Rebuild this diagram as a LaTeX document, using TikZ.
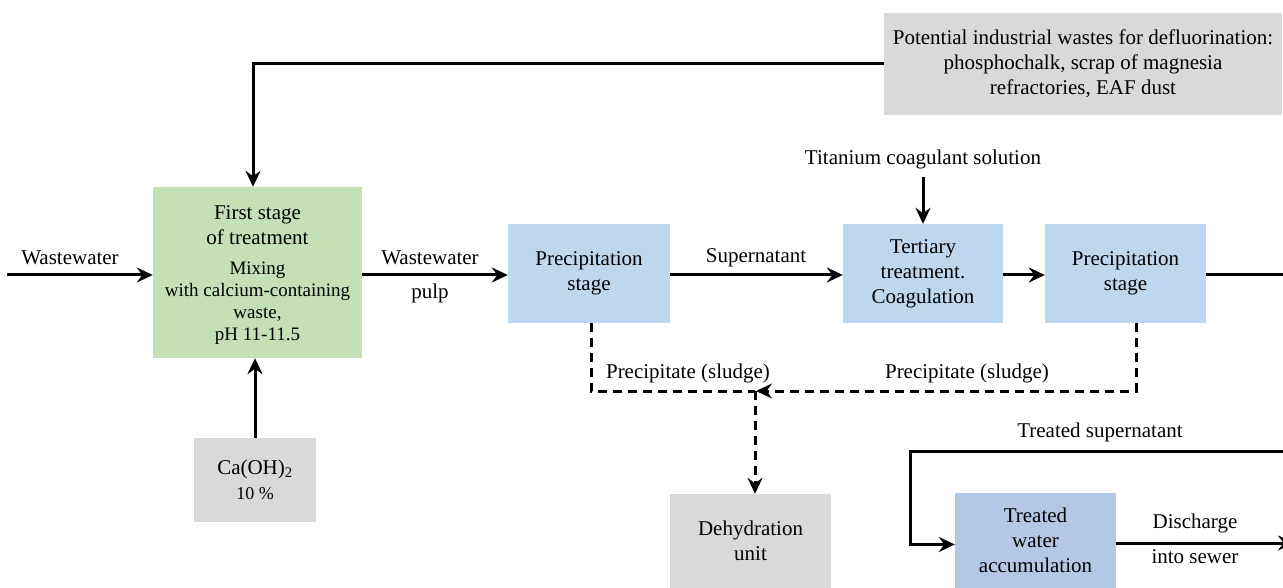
\documentclass[tikz,border=0pt]{standalone}
\usepackage{fontspec}
\setmainfont{Liberation Serif}
\usetikzlibrary{arrows.meta,positioning}
\definecolor{gboxc}{HTML}{C5E0B4}
\definecolor{bboxc}{HTML}{BDD7EE}
\definecolor{aboxc}{HTML}{B4C7E7}
\definecolor{greyc}{HTML}{D9D9D9}
\newcommand\smallerfont{\fontsize{19}{22}\selectfont}
\tikzset{
  base/.style={font=\fontsize{21}{25}\selectfont, align=center, inner sep=0pt},
  boxn/.style={base, draw=none},
  lbl/.style={base},
  tipst/.style={-{Stealth[length=16pt,width=15pt,inset=5.5pt]}},
  arr/.style={line width=3pt, tipst},
  plain/.style={line width=3pt},
  dsh/.style={line width=3pt, dash pattern=on 9pt off 6pt},
}
\begin{document}
\begin{tikzpicture}[x=1pt,y=-1pt]
\useasboundingbox (0,0) rectangle (1283,588);
% boxes
\node[boxn, fill=greyc, minimum width=398pt, minimum height=102pt] (top) at (1083,64)
  {Potential industrial wastes for defluorination:\\phosphochalk, scrap of magnesia\\refractories, EAF dust};
\node[boxn, fill=gboxc, minimum width=209pt, minimum height=171pt] (green) at (257.5,272.5)
  {\rule{0pt}{19.5pt}First stage\\of treatment\\[5pt]\smallerfont Mixing\\[-3pt]\smallerfont with calcium-containing\\[-3pt]\smallerfont waste,\\[-3pt]\smallerfont pH 11-11.5};
\node[boxn, fill=greyc, minimum width=122pt, minimum height=84pt] (ca) at (255,480)
  {Ca(OH)\textsubscript{2}\\\fontsize{18}{22}\selectfont 10 \%};
\node[boxn, fill=bboxc, minimum width=162pt, minimum height=99pt] (p1) at (589,273.5)
  {Precipitation\\stage};
\node[boxn, fill=bboxc, minimum width=160pt, minimum height=99pt] (tert) at (923,273.5)
  {Tertiary\\treatment.\\Coagulation};
\node[boxn, fill=bboxc, minimum width=161pt, minimum height=99pt] (p2) at (1125.5,273.5)
  {Precipitation\\stage};
\node[boxn, fill=greyc, minimum width=161pt, minimum height=94pt] (dehy) at (750.5,541)
  {Dehydration\\unit};
\node[boxn, fill=aboxc, minimum width=161pt, minimum height=95pt] (acc) at (1035.5,540.5)
  {Treated\\water\\accumulation};
% free ends
\coordinate (win) at (7,275);
\coordinate (yl) at (0,275);
\coordinate (rout) at (1283,275);
\coordinate (rin) at (1283,451);
\coordinate (lcorner) at (910,451);
\coordinate (dout) at (1294,543);
\coordinate (jn) at (755,391);
% labels
\node[lbl] (lw1) at (70,258) {Wastewater};
\node[lbl] (lw2) at (430,258) {Wastewater};
\node[lbl] (lw3) at (430,293) {pulp};
\node[lbl] (lsup) at (756,258) {Supernatant};
\node[lbl] (ti) at (923,159) {Titanium coagulant solution};
\node[lbl] (ls1) at (688,373) {Precipitate (sludge)};
\node[lbl] (ls2) at (967,373) {Precipitate (sludge)};
\node[lbl] (lts) at (1100,432) {Treated supernatant};
\node[lbl] (ld1) at (1195,523) {Discharge};
\node[lbl] (ld2) at (1195,557) {into sewer};
% connectors
\draw[arr] (win) -- (green.west |- yl);
\draw[arr] (green.east |- yl) -- (p1.west |- yl);
\draw[arr] (p1.east |- yl) -- (tert.west |- yl);
\draw[arr] (tert.east |- yl) -- (p2.west |- yl);
\draw[plain] (p2.east |- yl) -- (rout);
\draw[arr] ([yshift=-8pt]ti.south) -- (tert.north);
\draw[arr] (top.west) -| ([xshift=-4.5pt]green.north);
\draw[arr] (ca.north) -- (green.south -| ca.north);
\draw[dsh] ([xshift=2pt]p1.south) |- (jn);
\draw[dsh, tipst] ([xshift=10.5pt]p2.south) |- ([xshift=1pt]jn);
\draw[dsh, tipst] (jn) -- (dehy.north -| jn);
\draw[arr] (rin) -- (lcorner) |- ([yshift=-4pt]acc.west);
\draw[arr] ([yshift=-2.5pt]acc.east) -- (dout);
\end{tikzpicture}
\end{document}
